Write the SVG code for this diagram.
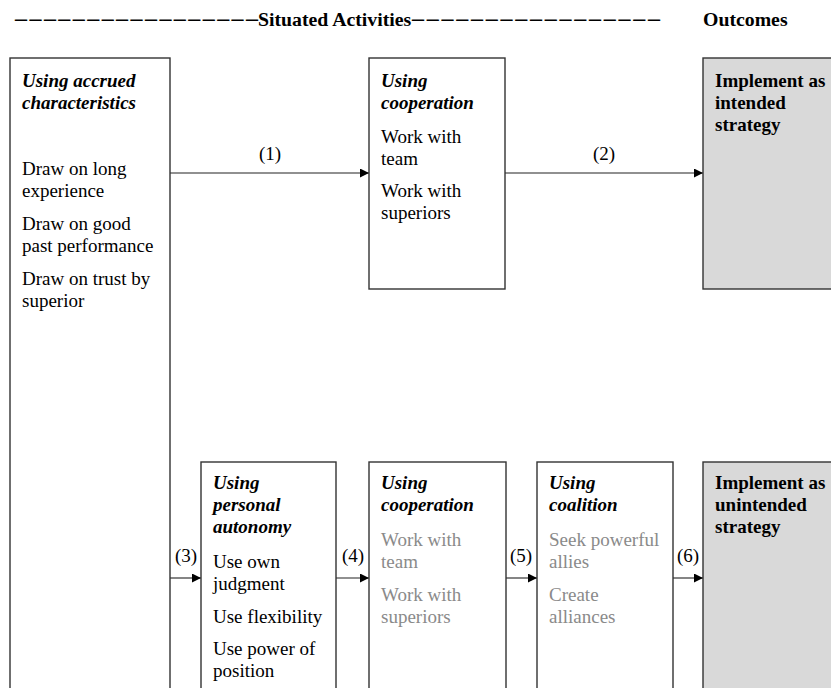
<svg xmlns="http://www.w3.org/2000/svg" width="831" height="688" viewBox="0 0 831 688" font-family="Liberation Serif, DejaVu Serif, Times New Roman, serif">
<defs>
<style>
text{font-family:'Liberation Serif','DejaVu Serif','Times New Roman',serif;font-size:19px;fill:#000}
.t{font-weight:bold;font-style:italic}
.b{font-weight:bold}
.g{fill:#8a8a8a}
.hd{font-weight:bold;font-size:19.8px}
.dash{font-weight:bold;font-size:24px}
.box{fill:#fff;stroke:#333;stroke-width:1.4}
.out{fill:#d9d9d9;stroke:#333;stroke-width:1.4}
.c{stroke:#222;stroke-width:1.1;fill:none;marker-end:url(#ah)}
.lbl{text-anchor:middle}
</style>
<marker id="ah" viewBox="0 0 10 10" refX="10" refY="5" markerWidth="10" markerHeight="9" markerUnits="userSpaceOnUse" orient="auto">
<path d="M0,0 L10,5 L0,10 z" fill="#000"/>
</marker>
</defs>
<rect width="831" height="688" fill="#fff"/>
<g id="header">
<text class="dash" x="15" y="26" textLength="243">–––––––––––––––––</text>
<text class="hd" x="258" y="26">Situated Activities</text>
<text class="dash" x="412" y="26" textLength="248">–––––––––––––––––</text>
<text class="hd" x="703" y="26">Outcomes</text>
</g>
<g id="connectors">
<line class="c" x1="170" y1="173" x2="369" y2="173"/>
<line class="c" x1="505" y1="173" x2="703" y2="173"/>
<line class="c" x1="170" y1="578" x2="201" y2="578"/>
<line class="c" x1="336" y1="578" x2="369" y2="578"/>
<line class="c" x1="506" y1="578" x2="537" y2="578"/>
<line class="c" x1="673" y1="578" x2="703" y2="578"/>
<text class="lbl" x="270" y="160">(1)</text>
<text class="lbl" x="604" y="160">(2)</text>
<text class="lbl" x="186" y="562">(3)</text>
<text class="lbl" x="353" y="562">(4)</text>
<text class="lbl" x="521" y="562">(5)</text>
<text class="lbl" x="688" y="562">(6)</text>
</g>
<g id="accrued">
<rect class="box" x="10" y="58" width="160" height="650"/>
<text class="t" x="22" y="87">Using accrued</text>
<text class="t" x="22" y="109">characteristics</text>
<text x="22" y="175">Draw on long</text>
<text x="22" y="197">experience</text>
<text x="22" y="230">Draw on good</text>
<text x="22" y="252">past performance</text>
<text x="22" y="285">Draw on trust by</text>
<text x="22" y="307">superior</text>
</g>
<g id="cooperation-top">
<rect class="box" x="369" y="58" width="136" height="231"/>
<text class="t" x="381" y="87">Using</text>
<text class="t" x="381" y="109">cooperation</text>
<text x="381" y="143">Work with</text>
<text x="381" y="165">team</text>
<text x="381" y="197">Work with</text>
<text x="381" y="219">superiors</text>
</g>
<g id="intended">
<rect class="out" x="703" y="58" width="140" height="231"/>
<text class="b" x="715" y="87">Implement as</text>
<text class="b" x="715" y="109">intended</text>
<text class="b" x="715" y="131">strategy</text>
</g>
<g id="autonomy">
<rect class="box" x="201" y="462" width="135" height="240"/>
<text class="t" x="213" y="489">Using</text>
<text class="t" x="213" y="511">personal</text>
<text class="t" x="213" y="533">autonomy</text>
<text x="213" y="568">Use own</text>
<text x="213" y="590">judgment</text>
<text x="213" y="623">Use flexibility</text>
<text x="213" y="655">Use power of</text>
<text x="213" y="677">position</text>
</g>
<g id="cooperation-bottom">
<rect class="box" x="369" y="462" width="137" height="240"/>
<text class="t" x="381" y="489">Using</text>
<text class="t" x="381" y="511">cooperation</text>
<text class="g" x="381" y="546">Work with</text>
<text class="g" x="381" y="568">team</text>
<text class="g" x="381" y="601">Work with</text>
<text class="g" x="381" y="623">superiors</text>
</g>
<g id="coalition">
<rect class="box" x="537" y="462" width="136" height="240"/>
<text class="t" x="549" y="489">Using</text>
<text class="t" x="549" y="511">coalition</text>
<text class="g" x="549" y="546">Seek powerful</text>
<text class="g" x="549" y="568">allies</text>
<text class="g" x="549" y="601">Create</text>
<text class="g" x="549" y="623">alliances</text>
</g>
<g id="unintended">
<rect class="out" x="703" y="462" width="140" height="240"/>
<text class="b" x="715" y="489">Implement as</text>
<text class="b" x="715" y="511">unintended</text>
<text class="b" x="715" y="533">strategy</text>
</g>
</svg>
